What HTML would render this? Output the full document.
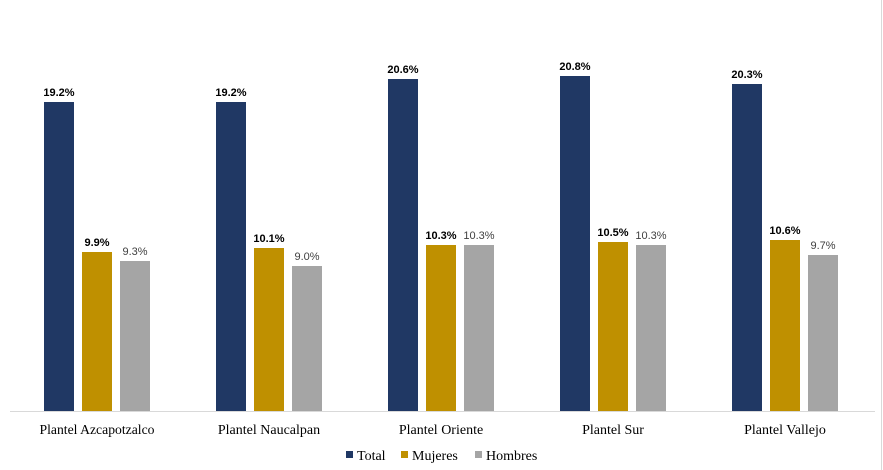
<!DOCTYPE html>
<html><head><meta charset="utf-8"><style>
html,body{margin:0;padding:0;background:#fff;width:883px;height:470px;overflow:hidden}
</style></head><body>
<svg width="883" height="470" xmlns="http://www.w3.org/2000/svg">
<rect width="883" height="470" fill="#fff"/>
<line x1="881.5" y1="0" x2="881.5" y2="470" stroke="#d9d9d9" stroke-width="1"/>
<g id="bars"></g>
<line x1="10" y1="411.5" x2="875" y2="411.5" stroke="#d9d9d9" stroke-width="1"/>
<g font-family="Liberation Sans, sans-serif" font-size="11" text-anchor="middle">
<!-- group 1 -->
<rect x="44" y="102" width="30" height="309" fill="#203864"/>
<rect x="82" y="252" width="30" height="159" fill="#bf9000"/>
<rect x="120" y="261" width="30" height="150" fill="#a5a5a5"/>
<text x="59" y="96" font-weight="bold" fill="#000">19.2%</text>
<text x="97" y="246" font-weight="bold" fill="#000">9.9%</text>
<text x="135" y="255" fill="#404040">9.3%</text>
<!-- group 2 -->
<rect x="216" y="102" width="30" height="309" fill="#203864"/>
<rect x="254" y="248" width="30" height="163" fill="#bf9000"/>
<rect x="292" y="266" width="30" height="145" fill="#a5a5a5"/>
<text x="231" y="96" font-weight="bold" fill="#000">19.2%</text>
<text x="269" y="242" font-weight="bold" fill="#000">10.1%</text>
<text x="307" y="260" fill="#404040">9.0%</text>
<!-- group 3 -->
<rect x="388" y="79" width="30" height="332" fill="#203864"/>
<rect x="426" y="245" width="30" height="166" fill="#bf9000"/>
<rect x="464" y="245" width="30" height="166" fill="#a5a5a5"/>
<text x="403" y="73" font-weight="bold" fill="#000">20.6%</text>
<text x="441" y="239" font-weight="bold" fill="#000">10.3%</text>
<text x="479" y="239" fill="#404040">10.3%</text>
<!-- group 4 -->
<rect x="560" y="76" width="30" height="335" fill="#203864"/>
<rect x="598" y="242" width="30" height="169" fill="#bf9000"/>
<rect x="636" y="245" width="30" height="166" fill="#a5a5a5"/>
<text x="575" y="70" font-weight="bold" fill="#000">20.8%</text>
<text x="613" y="236" font-weight="bold" fill="#000">10.5%</text>
<text x="651" y="239" fill="#404040">10.3%</text>
<!-- group 5 -->
<rect x="732" y="84" width="30" height="327" fill="#203864"/>
<rect x="770" y="240" width="30" height="171" fill="#bf9000"/>
<rect x="808" y="255" width="30" height="156" fill="#a5a5a5"/>
<text x="747" y="78" font-weight="bold" fill="#000">20.3%</text>
<text x="785" y="234" font-weight="bold" fill="#000">10.6%</text>
<text x="823" y="249" fill="#404040">9.7%</text>
</g>
<g font-family="Liberation Serif, serif" font-size="14" fill="#000" text-anchor="middle">
<text x="97" y="434" textLength="115" lengthAdjust="spacingAndGlyphs">Plantel Azcapotzalco</text>
<text x="269" y="434">Plantel Naucalpan</text>
<text x="441" y="434">Plantel Oriente</text>
<text x="613" y="434">Plantel Sur</text>
<text x="785" y="434">Plantel Vallejo</text>
</g>
<g font-family="Liberation Serif, serif" font-size="14" fill="#000">
<rect x="346" y="451" width="7" height="7" fill="#203864"/>
<text x="357" y="460">Total</text>
<rect x="401" y="451" width="7" height="7" fill="#bf9000"/>
<text x="412" y="460">Mujeres</text>
<rect x="475" y="451" width="7" height="7" fill="#a5a5a5"/>
<text x="486" y="460">Hombres</text>
</g>
</svg>
</body></html>
